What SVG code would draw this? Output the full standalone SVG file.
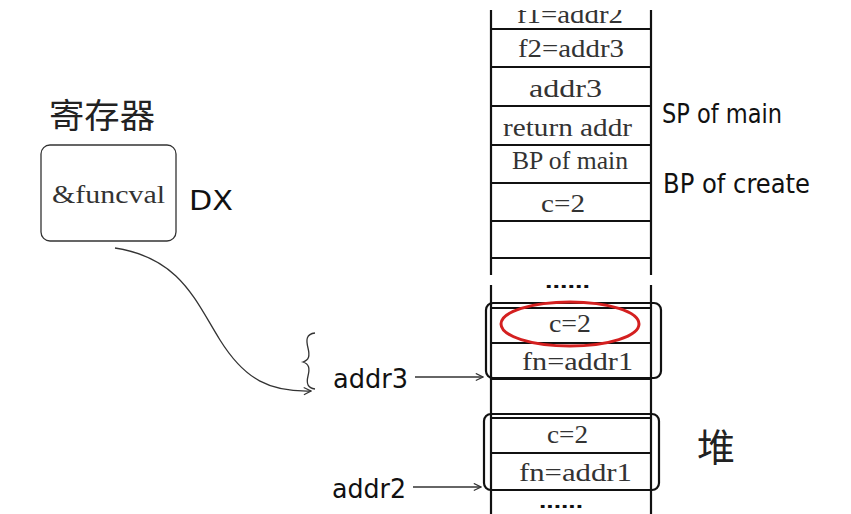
<svg xmlns="http://www.w3.org/2000/svg" width="851" height="514" viewBox="0 0 851 514">
<style>
.bg{fill:#ffffff}
.ln{stroke:#111;stroke-width:2.2;fill:none}
.thin{stroke:#333;stroke-width:1.3;fill:none}
.st{font-family:"Liberation Serif","DejaVu Serif",serif;font-size:25px;fill:#333}
.hw{font-family:"DejaVu Sans Condensed","DejaVu Sans","Liberation Sans",sans-serif;font-size:26px;fill:#111}
.cjk{font-family:"Noto Sans CJK SC","Noto Sans CJK JP",sans-serif;fill:#222}
.dots{font-family:"Liberation Sans",sans-serif;font-size:20px;font-weight:bold;fill:#111}
</style>
<defs>
<marker id="ah" viewBox="0 0 10 10" refX="9" refY="5" markerWidth="9" markerHeight="9" markerUnits="userSpaceOnUse" orient="auto">
<path d="M1,1 L9,5 L1,9" fill="none" stroke="#333" stroke-width="1.3"/>
</marker>
<clipPath id="topclip"><rect x="0" y="10" width="851" height="504"/></clipPath>
</defs>
<rect class="bg" x="0" y="0" width="851" height="514"/>

<g id="register">
<text class="cjk" x="49" y="128" font-size="34" textLength="106" lengthAdjust="spacingAndGlyphs">寄存器</text>
<rect class="thin" x="41" y="145" width="135" height="96" rx="9" stroke="#444"/>
<text class="st" x="52" y="203" font-size="24" textLength="113" lengthAdjust="spacingAndGlyphs">&amp;funcval</text>
<text class="hw" x="189" y="210" font-size="34" textLength="44" lengthAdjust="spacingAndGlyphs">DX</text>
</g>

<g id="stack" clip-path="url(#topclip)">
<line class="ln" x1="491" y1="5" x2="491" y2="275"/>
<line class="ln" x1="651" y1="5" x2="651" y2="275"/>
<line class="ln" x1="491" y1="285" x2="491" y2="514"/>
<line class="ln" x1="651" y1="285" x2="651" y2="514"/>
<line class="ln" x1="491" y1="29" x2="651" y2="29"/>
<line class="ln" x1="491" y1="67" x2="651" y2="67"/>
<line class="ln" x1="491" y1="106" x2="651" y2="106"/>
<line class="ln" x1="491" y1="145" x2="651" y2="145"/>
<line class="ln" x1="491" y1="183" x2="651" y2="183"/>
<line class="ln" x1="491" y1="221" x2="651" y2="221"/>
<line class="ln" x1="491" y1="258" x2="651" y2="258"/>
<text class="st" x="517" y="23" textLength="106" lengthAdjust="spacingAndGlyphs">f1=addr2</text>
<text class="st" x="518" y="57" textLength="106" lengthAdjust="spacingAndGlyphs">f2=addr3</text>
<text class="st" x="529" y="97" textLength="73" lengthAdjust="spacingAndGlyphs">addr3</text>
<text class="st" x="503" y="136" textLength="129" lengthAdjust="spacingAndGlyphs">return addr</text>
<text class="st" x="512" y="169" textLength="116" lengthAdjust="spacingAndGlyphs">BP of main</text>
<text class="st" x="541" y="212" textLength="44" lengthAdjust="spacingAndGlyphs">c=2</text>
<text class="dots" x="545" y="288" textLength="45" lengthAdjust="spacingAndGlyphs">......</text>
</g>

<g id="closure1">
<line class="ln" x1="491" y1="308" x2="651" y2="308"/>
<line class="ln" x1="491" y1="343" x2="651" y2="343"/>
<line class="ln" x1="491" y1="379" x2="651" y2="379"/>
<rect class="ln" x="486" y="303" width="175" height="75" rx="7"/>
<text class="st" x="549" y="332" textLength="42" lengthAdjust="spacingAndGlyphs">c=2</text>
<text class="st" x="522" y="370" textLength="111" lengthAdjust="spacingAndGlyphs">fn=addr1</text>
<ellipse cx="570" cy="324" rx="69" ry="22" fill="none" stroke="#d42020" stroke-width="3"/>
</g>

<g id="closure2">
<line class="ln" x1="491" y1="418" x2="651" y2="418"/>
<line class="ln" x1="491" y1="453" x2="651" y2="453"/>
<line class="ln" x1="491" y1="490" x2="651" y2="490"/>
<rect class="ln" x="484" y="414" width="175" height="76" rx="7"/>
<text class="st" x="547" y="443" textLength="41" lengthAdjust="spacingAndGlyphs">c=2</text>
<text class="st" x="519" y="481" textLength="113" lengthAdjust="spacingAndGlyphs">fn=addr1</text>
<text class="dots" x="539" y="508" font-size="18" textLength="44" lengthAdjust="spacingAndGlyphs">......</text>
</g>

<g id="labels">
<text class="hw" x="662" y="123" textLength="120" lengthAdjust="spacingAndGlyphs">SP of main</text>
<text class="hw" x="663" y="193" textLength="147" lengthAdjust="spacingAndGlyphs">BP of create</text>
<text class="hw" x="333" y="388" textLength="75" lengthAdjust="spacingAndGlyphs">addr3</text>
<text class="hw" x="332" y="498" textLength="74" lengthAdjust="spacingAndGlyphs">addr2</text>
<text class="cjk" x="697" y="461" font-size="38">堆</text>
<path class="thin" d="M315,333 C306,334 306,340 308,348 C310,356 309,360 303,362 C309,364 310,368 308,376 C306,384 308,388 315,389"/>
</g>

<g id="connectors">
<path class="thin" d="M115,248 C180,258 195,300 220,340 C245,380 270,392 311,391" marker-end="url(#ah)"/>
<line class="thin" x1="415" y1="377" x2="483" y2="377" marker-end="url(#ah)"/>
<line class="thin" x1="413" y1="487" x2="481" y2="487" marker-end="url(#ah)"/>
</g>
</svg>
